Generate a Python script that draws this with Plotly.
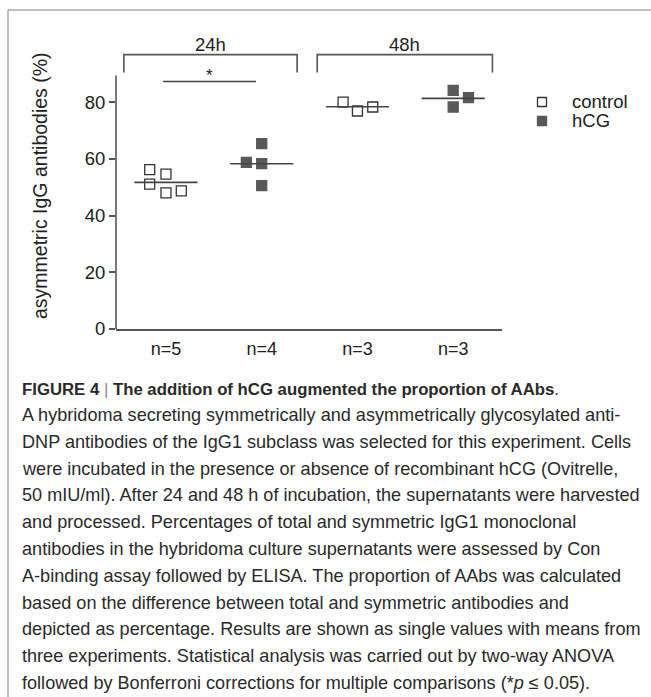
import plotly.graph_objects as go
import numpy as np

# ---------------- data ----------------
group_labels = ["n=5", "n=4", "n=3", "n=3"]
group_pos = [1, 2, 3, 4]
time_labels = ["24h", "48h"]

control_24h = [56.2, 54.6, 51.1, 48.0, 48.7]
control_24h_jit = [-0.17, 0.0, -0.17, 0.0, 0.16]
hcg_24h = [65.4, 58.8, 58.3, 50.6]
hcg_24h_jit = [0.0, -0.16, 0.0, 0.0]
control_48h = [80.0, 76.9, 78.3]
control_48h_jit = [-0.15, 0.0, 0.16]
hcg_48h = [84.2, 81.6, 78.3]
hcg_48h_jit = [0.0, 0.16, 0.0]

y_ticks = [0, 20, 40, 60, 80]
y_axis_top = 89.4
legend_names = ["control", "hCG"]

caption = [
    "<b>FIGURE 4 </b><span style='color:#888888'>|</span><b> The addition of hCG augmented the proportion of AAbs</b>.",
    "A hybridoma secreting symmetrically and asymmetrically glycosylated anti-",
    "DNP antibodies of the IgG1 subclass was selected for this experiment. Cells",
    "were incubated in the presence or absence of recombinant hCG (Ovitrelle,",
    "50 mIU/ml). After 24 and 48 h of incubation, the supernatants were harvested",
    "and processed. Percentages of total and symmetric IgG1 monoclonal",
    "antibodies in the hybridoma culture supernatants were assessed by Con",
    "A-binding assay followed by ELISA. The proportion of AAbs was calculated",
    "based on the difference between total and symmetric antibodies and",
    "depicted as percentage. Results are shown as single values with means from",
    "three experiments. Statistical analysis was carried out by two-way ANOVA",
    "followed by Bonferroni corrections for multiple comparisons (*<i>p</i> ≤ 0.05).",
]

# ---------------- layout geometry (pixels) ----------------
W, H = 651, 697
PL, PR = 116, 502        # plot area left/right px
PB = 329                 # y = 0 px
YMAX = 103
PT = 37
PH = PB - PT
PW = PR - PL

def px_x(px):
    return (px - PL) / PW

def px_y(py):
    return (PB - py) / PH

TXT = "#222222"
AX = "#555555"
MK_EDGE = "#333333"
MK_FILL = "#595959"
FONT = "Liberation Sans, Arial, sans-serif"

fig = go.Figure()

series = [
    (control_24h, control_24h_jit, 1, "control"),
    (hcg_24h, hcg_24h_jit, 2, "hCG"),
    (control_48h, control_48h_jit, 3, "control"),
    (hcg_48h, hcg_48h_jit, 4, "hCG"),
]
for vals, jit, pos, name in series:
    xs = [pos + j for j in jit]
    is_ctrl = name == "control"
    fig.add_trace(go.Scatter(
        x=xs, y=vals, mode="markers", name=name, showlegend=False,
        marker=dict(symbol="square-open" if is_ctrl else "square",
                    size=10, color=MK_EDGE if is_ctrl else MK_FILL,
                    line=dict(color=MK_EDGE if is_ctrl else MK_FILL, width=1.3)),
        cliponaxis=False,
    ))
    m = float(np.mean(vals))
    fig.add_trace(go.Scatter(
        x=[pos - 0.33, pos + 0.33], y=[m, m], mode="lines",
        line=dict(color="#444444", width=1.6), showlegend=False,
        hoverinfo="skip",
    ))

shapes = []
# y axis line (stops at top of scale)
shapes.append(dict(type="line", xref="paper", yref="y", x0=0, x1=0, y0=0, y1=y_axis_top,
                   line=dict(color=AX, width=1.6)))
# time brackets
bracket_top, bracket_bot = 96.8, 90.5
for (x0, x1) in [(0.56, 2.37), (2.58, 4.41)]:
    shapes.append(dict(type="path", xref="x", yref="y",
                       path=f"M {x0},{bracket_bot} L {x0},{bracket_top} L {x1},{bracket_top} L {x1},{bracket_bot}",
                       line=dict(color=AX, width=1.6)))
# significance line
shapes.append(dict(type="line", xref="x", yref="y", x0=0.97, x1=1.94, y0=87.3, y1=87.3,
                   line=dict(color="#444444", width=1.6)))
# frame lines of the figure
shapes.append(dict(type="line", xref="paper", yref="paper", x0=px_x(8), x1=px_x(W + 2), y0=px_y(10), y1=px_y(10),
                   line=dict(color="#aaaaaa", width=1.5)))
shapes.append(dict(type="line", xref="paper", yref="paper", x0=px_x(8), x1=px_x(8), y0=px_y(10), y1=px_y(H + 2),
                   line=dict(color="#aaaaaa", width=1.5)))

# legend (drawn manually for tight spacing)
legend_rows = [102, 121]
for name, py in zip(legend_names, legend_rows):
    is_ctrl = name == "control"
    s = 4.5
    shapes.append(dict(type="rect", xref="paper", yref="paper",
                       x0=px_x(542 - s), x1=px_x(542 + s), y0=px_y(py + s), y1=px_y(py - s),
                       line=dict(color=MK_EDGE if is_ctrl else MK_FILL, width=1.3),
                       fillcolor="white" if is_ctrl else MK_FILL))

annotations = []
for name, py in zip(legend_names, legend_rows):
    annotations.append(dict(x=px_x(570), y=px_y(py - 1), xref="paper", yref="paper", text=name,
                            showarrow=False, xanchor="left", yanchor="middle",
                            font=dict(size=18.5, color=TXT, family=FONT)))

for lab, xc in zip(time_labels, [(0.56 + 2.37) / 2, (2.58 + 4.41) / 2]):
    annotations.append(dict(x=xc, y=100.2, xref="x", yref="y", text=lab, showarrow=False,
                            font=dict(size=18.5, color=TXT, family=FONT),
                            xanchor="center", yanchor="middle"))
annotations.append(dict(x=1.455, y=89.3, xref="x", yref="y", text="*", showarrow=False,
                        font=dict(size=17, color=TXT, family=FONT), xanchor="center", yanchor="middle"))
annotations.append(dict(x=px_x(40), y=px_y(186), xref="paper", yref="paper",
                        text="asymmetric IgG antibodies (%)", textangle=-90, showarrow=False,
                        xanchor="center", yanchor="middle",
                        font=dict(size=19.5, color=TXT, family=FONT)))

line_y = [389] + list(np.linspace(415, 683, 11))
for i, (txt, py) in enumerate(zip(caption, line_y)):
    annotations.append(dict(x=px_x(20), y=px_y(py), xref="paper", yref="paper", text=txt,
                            showarrow=False, xanchor="left", yanchor="middle", align="left",
                            font=dict(size=16.75 if i == 0 else 18.1, color="#2a2a2a", family=FONT)))

fig.update_layout(
    width=W, height=H,
    margin=dict(l=PL, r=W - PR, t=PT, b=H - PB, pad=0),
    paper_bgcolor="white", plot_bgcolor="white",
    font=dict(family=FONT, color=TXT, size=18),
    shapes=shapes, annotations=annotations,
    showlegend=False,
    xaxis=dict(range=[0.478, 4.51], tickmode="array", tickvals=group_pos, ticktext=group_labels,
               showline=True, linecolor=AX, linewidth=1.6, ticks="", showgrid=False, zeroline=False,
               tickfont=dict(size=18, color=TXT), ticklabelstandoff=3, fixedrange=True),
    yaxis=dict(range=[0, YMAX], tickmode="array", tickvals=y_ticks, showline=False,
               ticks="outside", ticklen=6, tickwidth=1.5, tickcolor=AX, showgrid=False, zeroline=False,
               tickfont=dict(size=18.5, color=TXT), fixedrange=True),
)

fig.write_html("out.html", config={"displayModeBar": False},
               post_script="document.body.style.margin='0px';document.body.style.overflow='hidden';")
